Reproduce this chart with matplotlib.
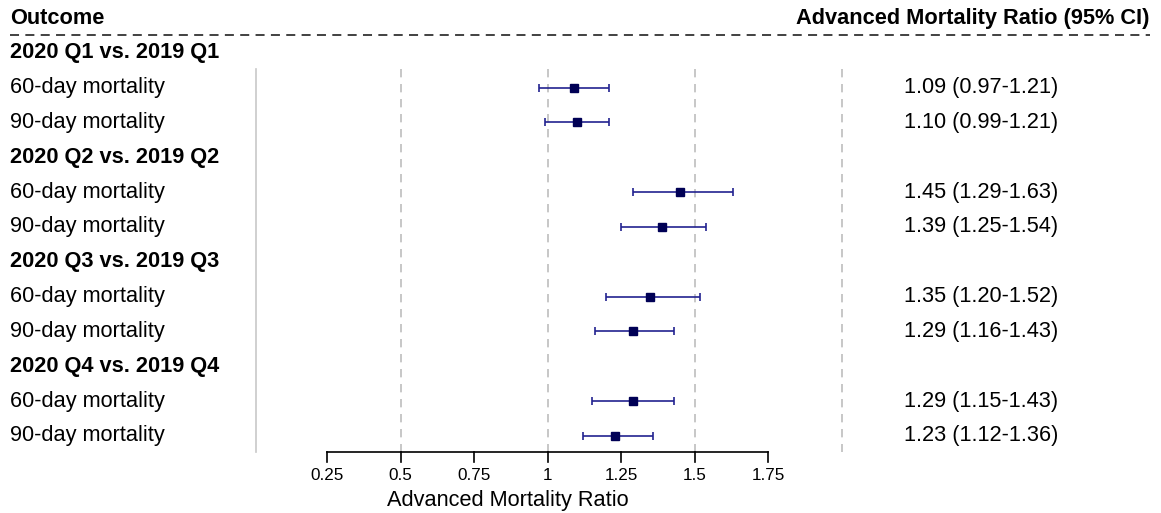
import matplotlib
matplotlib.use("Agg")
import matplotlib.pyplot as plt
import matplotlib.transforms as mtransforms

plt.rcParams['font.family'] = ['Liberation Sans', 'DejaVu Sans']

# Data
groups = ['2020 Q1 vs. 2019 Q1', '2020 Q2 vs. 2019 Q2',
          '2020 Q3 vs. 2019 Q3', '2020 Q4 vs. 2019 Q4']
outcomes = ['60-day mortality', '90-day mortality']
ratio = [1.09, 1.10, 1.45, 1.39, 1.35, 1.29, 1.29, 1.23]
lower = [0.97, 0.99, 1.29, 1.25, 1.20, 1.16, 1.15, 1.12]
upper = [1.21, 1.21, 1.63, 1.54, 1.52, 1.43, 1.43, 1.36]
xticks = [0.25, 0.5, 0.75, 1, 1.25, 1.5, 1.75]
xtick_labels = ['0.25', '0.5', '0.75', '1', '1.25', '1.5', '1.75']
ref_lines = [0.5, 1, 1.5, 2]

W, H = 1161, 513
fig = plt.figure(figsize=(W / 100, H / 100), dpi=100)
ax = fig.add_axes([0, 0, 1, 1])
ax.axis('off')

# x: value 0.25 at 327 px, 1 unit = 294 px
px_per_unit = 294.0
x0 = 0.25 - 327 / px_per_unit
x1 = 0.25 + (W - 327) / px_per_unit
ax.set_xlim(x0, x1)
# y: row 0 at 18 px, 34.83 px per row
step = 34.83
ax.set_ylim(12 + (H - 436) / step, -18 / step)

trans = mtransforms.blended_transform_factory(fig.transFigure, ax.transData)

def fx(px):
    return px / W

fs = 15.7
ax.text(fx(10), 0, 'Outcome', transform=trans, fontsize=fs, fontweight='bold', va='center', ha='left')
ax.text(fx(1150), 0, 'Advanced Mortality Ratio (95% CI)', transform=trans, fontsize=fs,
        fontweight='bold', va='center', ha='right')
ax.plot([fx(10), fx(1150)], [0.49, 0.49], transform=trans, color='#333333', lw=1.3,
        linestyle=(0, (5, 3.5)), clip_on=False)

# vertical reference lines
ytop, ybot = 1.46, 12.46
ax.plot([0.01, 0.01], [ytop, ybot], color='#c8c8c8', lw=1.2)
for v in ref_lines:
    ax.plot([v, v], [ytop, ybot], color='#bdbdbd', lw=1.2, linestyle=(0, (5, 4)))

row = 1
k = 0
for g in groups:
    ax.text(fx(10), row, g, transform=trans, fontsize=fs, fontweight='bold', va='center', ha='left')
    row += 1
    for o in outcomes:
        ax.text(fx(10), row, o, transform=trans, fontsize=fs, va='center', ha='left')
        ax.errorbar(ratio[k], row, xerr=[[ratio[k] - lower[k]], [upper[k] - ratio[k]]],
                    fmt='s', color='#000055', ecolor='#222290', elinewidth=1.2,
                    capsize=3.2, capthick=1.2, markersize=5.5)
        ax.text(fx(1058), row, '%.2f (%.2f-%.2f)' % (ratio[k], lower[k], upper[k]),
                transform=trans, fontsize=fs, va='center', ha='right')
        row += 1
        k += 1

# x axis
axis_y = 12.46
ax.plot([xticks[0], xticks[-1]], [axis_y, axis_y], color='black', lw=1.2)
tick_len = 10 / step
for t, lab in zip(xticks, xtick_labels):
    ax.plot([t, t], [axis_y, axis_y + tick_len], color='black', lw=1.2)
    ax.text(t, axis_y + 23 / step, lab, fontsize=12.3, ha='center', va='center')
ax.text(fx(508), axis_y + 48 / step, 'Advanced Mortality Ratio', transform=trans,
        fontsize=15.7, ha='center', va='center')

fig.savefig('out.png', dpi=100)
